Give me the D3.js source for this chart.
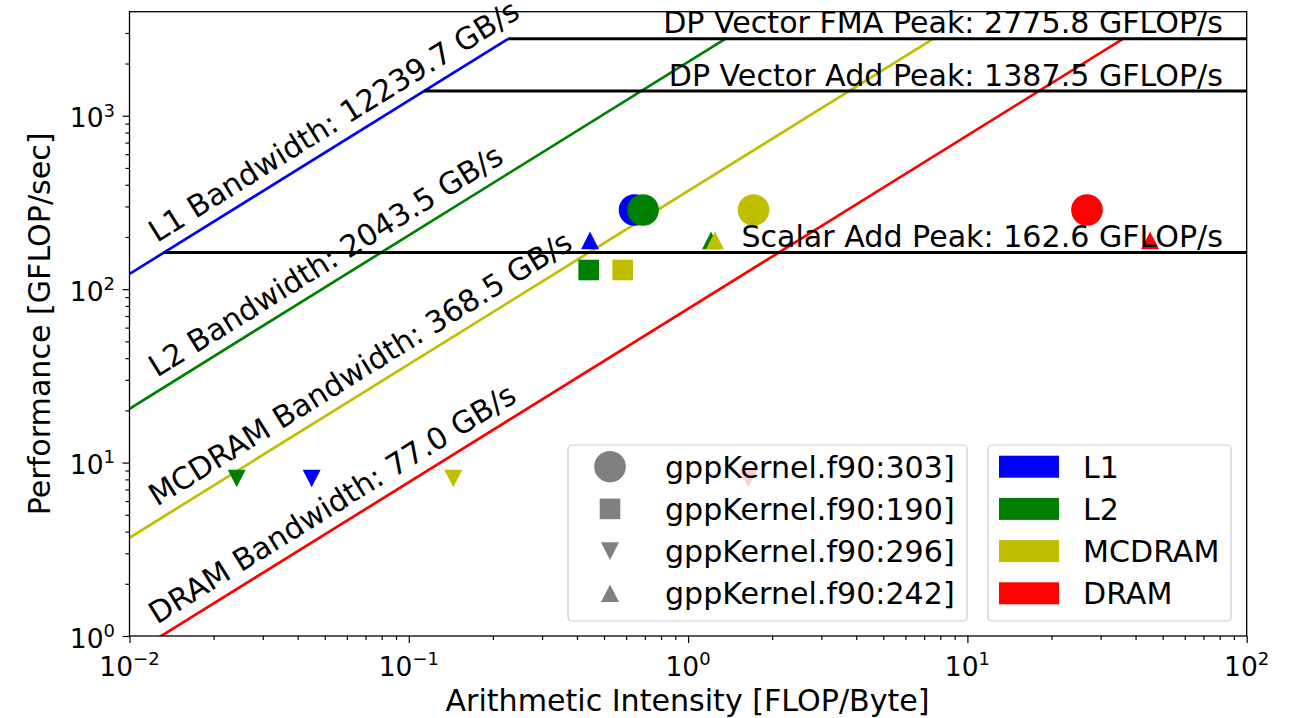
<!DOCTYPE html>
<html><head><meta charset="utf-8">
<script src="https://cdn.jsdelivr.net/npm/d3@7"></script>
<style>
body{margin:0;background:#fff}
svg{display:block}
text{font-family:"DejaVu Sans",sans-serif;fill:#000}
</style>
</head><body>
<svg id="chart" width="1298" height="718"></svg>
<script>
// ---------- data ----------
const memLevels = ["L1", "L2", "MCDRAM", "DRAM"];
const memBandwidths = [12239.7, 2043.5, 368.5, 77.0];           // GB/s
const memColors = ["#0000ff", "#008000", "#bfbf00", "#ff0000"];
const compNames = ["DP Vector FMA Peak", "DP Vector Add Peak", "Scalar Add Peak"];
const compPeaks = [2775.8, 1387.5, 162.6];                        // GFLOP/s
const kernelNames = ["gppKernel.f90:303]", "gppKernel.f90:190]", "gppKernel.f90:296]", "gppKernel.f90:242]"];
const kernelMarkers = ["circle", "square", "triangle-down", "triangle-up"];
// arithmetic intensity / performance per memory level (L1, L2, MCDRAM, DRAM); null = not shown
const k303AI   = [0.643, 0.690, 1.715, 26.8];
const k303Perf = [286, 286, 286, 286];
const k190AI   = [null, 0.4406, 0.583, null];
const k190Perf = [null, 129, 129, null];
const k296AI   = [0.0449, 0.0242, 0.1443, 1.643];
const k296Perf = [8.1, 8.1, 8.1, 8.1];
const k242AI   = [0.4455, 1.208, 1.248, 45.1];
const k242Perf = [191, 191, 191, 191];
const xTickValues = [0.01, 0.1, 1, 10, 100];
const xTickExp = ["\u22122", "\u22121", "0", "1", "2"];
const yTickValues = [1, 10, 100, 1000];
const yTickExp = ["0", "1", "2", "3"];
const xDomain = [0.01, 100];
const yDomain = [1, 3980];
const xLabel = "Arithmetic Intensity [FLOP/Byte]";
const yLabel = "Performance [GFLOP/sec]";

// ---------- layout ----------
const L = 129.5, R = 1246.7, T = 11.7, B = 636;
const FS = 30.1;
const svg = d3.select("#chart");
const x = d3.scaleLog().domain(xDomain).range([L, R]);
const y = d3.scaleLog().domain(yDomain).range([B, T]);

svg.append("defs").append("clipPath").attr("id", "plotclip")
  .append("rect").attr("x", L).attr("y", T).attr("width", R - L).attr("height", B - T);
const plot = svg.append("g").attr("clip-path", "url(#plotclip)");

// ---------- roofs ----------
const maxPeak = d3.max(compPeaks);
const lineGen = d3.line().x(d => x(d[0])).y(d => y(d[1]));
memBandwidths.forEach((bw, i) => {
  const xEnd = maxPeak / bw;
  plot.append("path")
    .attr("d", lineGen([[xDomain[0], xDomain[0] * bw], [xEnd, maxPeak]]))
    .attr("stroke", memColors[i]).attr("stroke-width", 2.7).attr("fill", "none");
});
compPeaks.forEach((p, i) => {
  const xStart = p / memBandwidths[0];
  plot.append("path")
    .attr("d", lineGen([[xStart, p], [xDomain[1], p]]))
    .attr("stroke", "#000").attr("stroke-width", 3).attr("fill", "none");
});

// ---------- markers ----------
function markerPath(type, s) {
  const w = s, h = s * 0.98;
  if (type === "triangle-up") return `M0,${-h/2}L${w/2},${h/2}L${-w/2},${h/2}Z`;
  if (type === "triangle-down") return `M0,${h/2}L${w/2},${-h/2}L${-w/2},${-h/2}Z`;
  return "";
}
function drawMarker(g, type, cx, cy, color) {
  if (type === "circle") {
    g.append("circle").attr("cx", cx).attr("cy", cy).attr("r", 15.8).attr("fill", color);
  } else if (type === "square") {
    g.append("rect").attr("x", cx - 10.3).attr("y", cy - 10.3).attr("width", 20.6).attr("height", 20.6).attr("fill", color);
  } else {
    g.append("path").attr("transform", `translate(${cx},${cy})`).attr("d", markerPath(type, 18)).attr("fill", color);
  }
}
const kernelAI = [k303AI, k190AI, k296AI, k242AI];
const kernelPerf = [k303Perf, k190Perf, k296Perf, k242Perf];
const ptsG = plot.append("g");
kernelAI.forEach((ais, k) => {
  ais.forEach((ai, m) => {
    if (ai == null) return;
    drawMarker(ptsG, kernelMarkers[k], x(ai), y(kernelPerf[k][m]), memColors[m]);
  });
});

// ---------- roof labels ----------
const ang = Math.atan2(y(1) - y(10), x(10) - x(1)); // screen angle of bandwidth lines
const angDeg = ang * 180 / Math.PI;
const bwLabelAI = 0.0132, bwLabelOffset = 11.8;
memBandwidths.forEach((bw, i) => {
  const fx = x(bwLabelAI), fy = y(bwLabelAI * bw);
  const tx = fx - bwLabelOffset * Math.sin(ang), ty = fy - bwLabelOffset * Math.cos(ang);
  svg.append("text")
    .attr("transform", `translate(${tx},${ty}) rotate(${-angDeg})`)
    .attr("font-size", FS)
    .text(`${memLevels[i]} Bandwidth: ${bw.toFixed(1)} GB/s`);
});
const peakLabelAI = 82.2;
compPeaks.forEach((p, i) => {
  svg.append("text")
    .attr("x", x(peakLabelAI)).attr("y", y(p) - 5.5)
    .attr("text-anchor", "end").attr("font-size", FS)
    .text(`${compNames[i]}: ${p.toFixed(1)} GFLOP/s`);
});

// ---------- axes ----------
const minorX = [], minorY = [];
for (let e = -2; e < 2; e++) for (let m = 2; m <= 9; m++) minorX.push(m * Math.pow(10, e));
for (let e = 0; e < 4; e++) for (let m = 2; m <= 9; m++) { const v = m * Math.pow(10, e); if (v < yDomain[1]) minorY.push(v); }

function styleAxis(g) {
  g.select(".domain").remove();
  g.selectAll("line").attr("stroke", "#000").attr("stroke-width", 1.2);
  g.selectAll("text").remove();
}
svg.append("g").attr("transform", `translate(0,${B})`)
  .call(d3.axisBottom(x).tickValues(xTickValues).tickSize(7).tickFormat(""))
  .call(styleAxis);
svg.append("g").attr("transform", `translate(0,${B})`)
  .call(d3.axisBottom(x).tickValues(minorX).tickSize(4).tickFormat(""))
  .call(styleAxis);
svg.append("g").attr("transform", `translate(${L},0)`)
  .call(d3.axisLeft(y).tickValues(yTickValues).tickSize(7).tickFormat(""))
  .call(styleAxis);
svg.append("g").attr("transform", `translate(${L},0)`)
  .call(d3.axisLeft(y).tickValues(minorY).tickSize(4).tickFormat(""))
  .call(styleAxis);

// spines
svg.append("rect").attr("x", L).attr("y", T).attr("width", R - L).attr("height", B - T)
  .attr("fill", "none").attr("stroke", "#000").attr("stroke-width", 1.3);

// tick labels
xTickValues.forEach((v, i) => {
  const t = svg.append("text").attr("x", x(v)).attr("y", 675.7).attr("text-anchor", "middle").attr("font-size", 26.5);
  t.append("tspan").text("10");
  t.append("tspan").attr("dy", -10.7).attr("font-size", 18).text(xTickExp[i]);
});
yTickValues.forEach((v, i) => {
  const t = svg.append("text").attr("x", 115).attr("y", y(v) + 11.5).attr("text-anchor", "end").attr("font-size", 26.5);
  t.append("tspan").text("10");
  t.append("tspan").attr("dy", -10.7).attr("font-size", 18).text(yTickExp[i]);
});

// axis labels
svg.append("text").attr("x", (L + R) / 2 - 0.6).attr("y", 710.5).attr("text-anchor", "middle").attr("font-size", FS).text(xLabel);
svg.append("text").attr("transform", `translate(50,${(T + B) / 2}) rotate(-90)`).attr("text-anchor", "middle").attr("font-size", FS).text(yLabel);

// ---------- legends ----------
const rowY = [466.7, 508.9, 551.1, 593.3];
function legendBox(x0, x1) {
  svg.append("rect").attr("x", x0).attr("y", 445).attr("width", x1 - x0).attr("height", 176)
    .attr("rx", 4).attr("fill", "#fff").attr("fill-opacity", 0.8).attr("stroke", "#cccccc").attr("stroke-width", 1.2);
}
legendBox(568, 967);
const lg1 = svg.append("g");
kernelNames.forEach((n, k) => {
  drawMarker(lg1, kernelMarkers[k], 610, rowY[k], "#808080");
  lg1.append("text").attr("x", 665).attr("y", rowY[k] + 11).attr("font-size", FS).text(n);
});
legendBox(988, 1231);
const lg2 = svg.append("g");
memLevels.forEach((n, i) => {
  lg2.append("rect").attr("x", 999).attr("y", rowY[i] - 11).attr("width", 60).attr("height", 22).attr("fill", memColors[i]);
  lg2.append("text").attr("x", 1083).attr("y", rowY[i] + 11).attr("font-size", FS).text(n);
});
</script>
</body></html>
